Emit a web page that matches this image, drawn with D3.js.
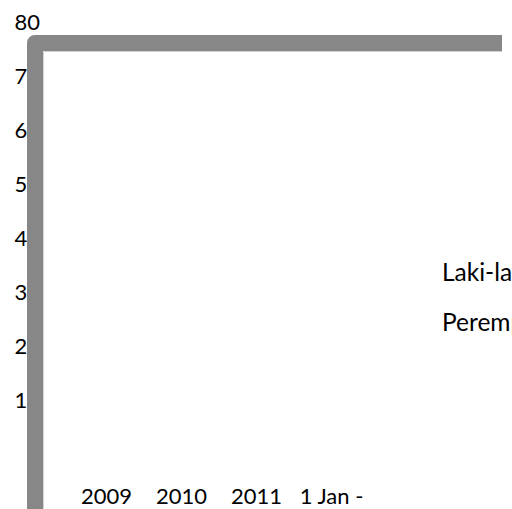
<!DOCTYPE html>
<html>
<head>
<meta charset="utf-8">
<script src="https://cdn.jsdelivr.net/npm/d3@7"></script>
<style>
  html, body { margin: 0; padding: 0; background: #fff; overflow: hidden; }
  svg { display: block; }
  text { font-family: Lato, "Open Sans", sans-serif; fill: #000; }
</style>
</head>
<body>
<svg id="chart" width="512" height="509"></svg>
<script>
// ---- data ----
const categories = ["2009", "2010", "2011", "1 Jan -"];
const seriesNames = ["Laki-laki", "Perempuan"];
const lakiValues = [0, 0, 0, 0];
const perempuanValues = [0, 0, 0, 0];
const yTicks = [0, 10, 20, 30, 40, 50, 60, 70, 80];

const svg = d3.select("#chart");
const W = 512, H = 509;

const x = d3.scaleBand().domain(categories).range([69, 369]).paddingInner(0.2).paddingOuter(0.1);
const y = d3.scaleLinear().domain([0, 80]).range([455, 22]);
const xs = d3.scaleBand().domain(seriesNames).range([0, x.bandwidth()]).padding(0.05);
const color = d3.scaleOrdinal().domain(seriesNames).range(["#4f81bd", "#c0504d"]);

// bars (values are zero -> no visible height)
const rows = categories.map((c, i) => ({ c, vals: [lakiValues[i], perempuanValues[i]] }));
svg.append("g").selectAll("g").data(rows).join("g")
  .attr("transform", d => `translate(${x(d.c)},0)`)
  .selectAll("rect").data(d => d.vals.map((v, j) => ({ s: seriesNames[j], v })))
  .join("rect")
  .attr("x", d => xs(d.s))
  .attr("width", xs.bandwidth())
  .attr("y", d => y(d.v))
  .attr("height", d => y(0) - y(d.v))
  .attr("fill", d => color(d.s));

// y axis labels
const yAxis = d3.axisLeft(y).tickValues(yTicks).tickSize(0).tickPadding(0);
const gy = svg.append("g").attr("transform", "translate(40,0)").call(yAxis);
gy.select(".domain").remove();
gy.selectAll("text").attr("font-size", 22).attr("font-family", "Lato, sans-serif").attr("fill", "#000");

// x axis labels
const xAxis = d3.axisBottom(x).tickSize(0).tickPadding(0);
const gx = svg.append("g").attr("transform", "translate(0,488.5)").call(xAxis);
gx.select(".domain").remove();
gx.selectAll("text").attr("font-size", 22).attr("font-family", "Lato, sans-serif").attr("fill", "#000").attr("dy", "0.71em");

// legend
const legend = svg.append("g").attr("transform", "translate(442,0)");
legend.selectAll("text").data(seriesNames).join("text")
  .attr("x", 0)
  .attr("y", (d, i) => 281 + i * 50)
  .attr("font-size", 24.5)
  .text(d => d);

// chart border frame (thick gray, drawn on top)
svg.append("path")
  .attr("d", `M35,${H + 20} L35,43 L502,43`)
  .attr("fill", "none")
  .attr("stroke", "#878787")
  .attr("stroke-width", 16)
  .attr("stroke-linejoin", "round");
svg.append("path")
  .attr("d", `M43.5,${H + 20} L43.5,51.5 L502,51.5`)
  .attr("fill", "none")
  .attr("stroke", "#d4d4d4")
  .attr("stroke-width", 1);
</script>
</body>
</html>
